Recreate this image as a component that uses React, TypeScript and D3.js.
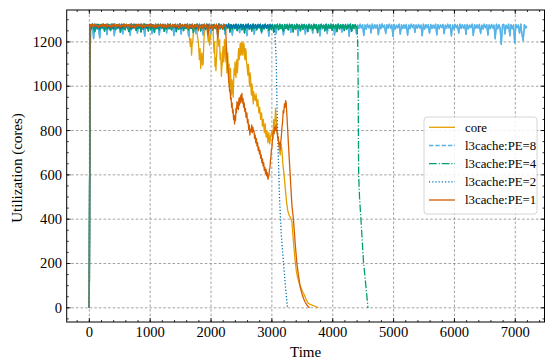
import React from 'react';
import * as d3 from 'd3';

const W = 545;
const H = 362;
const PLOT = { left: 66.7, right: 544.5, top: 10, bottom: 322 };
const X_DOMAIN: [number, number] = [-372, 7480];
const Y_DOMAIN: [number, number] = [-64, 1344];
const X_TICKS = [0, 1000, 2000, 3000, 4000, 5000, 6000, 7000];
const Y_TICKS = [0, 200, 400, 600, 800, 1000, 1200];
const X_MINOR_STEP = 200;
const Y_MINOR_STEP = 50;

// Full-utilisation samples: value at t = BAND_START + i * BAND_STEP
const BAND_START = 10;
const BAND_STEP = 20;

const coreBand = [
  1140, 1276, 1270, 1279, 1266, 1280, 1272, 1278, 1268, 1280, 1274, 1279, 1265, 1280, 1271, 1277, 1269, 1280, 1273, 1278,
  1266, 1280, 1272, 1279, 1268, 1277, 1274, 1280, 1265, 1279, 1271, 1278, 1269, 1280, 1273, 1276, 1262, 1279, 1270, 1280,
  1275, 1268, 1279, 1271, 1280, 1266, 1278, 1273, 1279, 1269, 1280, 1264, 1277, 1272, 1279, 1267, 1280, 1270, 1278, 1265,
  1279, 1271, 1280, 1268, 1277, 1273, 1279, 1266, 1280, 1270, 1278, 1267, 1279, 1272, 1280, 1264, 1277, 1269, 1279, 1271,
  1280, 1274,
];
const coreTail: [number, number][] = [
  [1640, 1230], [1650, 1205], [1660, 1180], [1670, 1215], [1680, 1140], [1690, 1190], [1700, 1200], [1710, 1250],
  [1720, 1265], [1740, 1278], [1760, 1270], [1775, 1230], [1790, 1200], [1800, 1160], [1810, 1120], [1820, 1170],
  [1830, 1080], [1840, 1130], [1850, 1150], [1860, 1095], [1870, 1100], [1880, 1190], [1890, 1240], [1910, 1275],
  [1935, 1260], [1945, 1225], [1955, 1200], [1965, 1240], [1975, 1185], [1985, 1215], [1995, 1230], [2015, 1270],
  [2035, 1250], [2042, 1190], [2050, 1150], [2058, 1200], [2065, 1090], [2072, 1130], [2080, 1070], [2088, 1120],
  [2095, 1150], [2102, 1210], [2110, 1230], [2120, 1200], [2130, 1180], [2140, 1210], [2150, 1120], [2160, 1150],
  [2170, 1045], [2178, 1090], [2185, 1100], [2192, 1160], [2200, 1180], [2208, 1110], [2215, 1130], [2222, 1210],
  [2230, 1200], [2238, 1140], [2245, 1110], [2252, 1170], [2260, 1060], [2268, 1120], [2275, 1150], [2282, 1080],
  [2290, 1040], [2298, 1100], [2305, 990], [2312, 1040], [2320, 1080], [2328, 1000], [2335, 960], [2342, 1030],
  [2350, 1020], [2358, 970], [2365, 950], [2372, 1030], [2380, 1080], [2388, 1050], [2395, 1110], [2402, 1060],
  [2410, 1040], [2418, 1100], [2425, 1120], [2432, 1060], [2440, 1090], [2448, 1150], [2455, 1170], [2462, 1120],
  [2470, 1140], [2478, 1190], [2485, 1195], [2492, 1140], [2500, 1150], [2508, 1200], [2515, 1190], [2522, 1140],
  [2530, 1160], [2538, 1195], [2545, 1180], [2552, 1130], [2560, 1120], [2568, 1170], [2575, 1160], [2582, 1110],
  [2590, 1095], [2598, 1070], [2605, 1050], [2612, 1100], [2620, 1080], [2628, 1020], [2635, 1000], [2642, 1060],
  [2650, 1040], [2658, 980], [2665, 960], [2672, 1010], [2680, 990], [2688, 940], [2695, 920], [2702, 975],
  [2710, 960], [2725, 935], [2740, 965], [2755, 910], [2770, 940], [2785, 880], [2800, 905], [2815, 850],
  [2830, 880], [2845, 820], [2860, 850], [2875, 790], [2890, 830], [2905, 770], [2920, 800], [2935, 745],
  [2950, 790], [2965, 740], [2980, 775], [3000, 800], [3015, 760], [3030, 850], [3045, 800], [3060, 900],
  [3075, 840], [3090, 790], [3105, 760], [3120, 720], [3137, 690], [3150, 740], [3165, 710], [3180, 650],
  [3200, 600], [3220, 540], [3240, 480], [3260, 440], [3280, 420], [3300, 410], [3315, 400], [3329, 390],
  [3345, 330], [3360, 280], [3380, 220], [3400, 170], [3420, 140], [3440, 120], [3460, 100], [3480, 90],
  [3500, 75], [3530, 60], [3560, 40], [3600, 20], [3640, 14], [3680, 10], [3720, 6], [3766, 0],
];

const pe8Band = [
  1279, 1261, 1277, 1215, 1280, 1259, 1276, 1264, 1218, 1278, 1262, 1280, 1257, 1275, 1233, 1279, 1263, 1277, 1260, 1281,
  1228, 1276, 1258, 1279, 1265, 1277, 1261, 1236, 1280, 1259, 1278, 1263, 1276, 1230, 1279, 1260, 1281, 1264, 1277, 1239,
  1275, 1262, 1280, 1258, 1278, 1226, 1279, 1264, 1276, 1261, 1280, 1237, 1277, 1259, 1279, 1263, 1275, 1232, 1280, 1260,
  1278, 1265, 1277, 1241, 1279, 1258, 1281, 1262, 1276, 1229, 1278, 1264, 1280, 1259, 1277, 1235, 1279, 1261, 1276, 1263,
  1280, 1227, 1278, 1260, 1279, 1264, 1275, 1238, 1280, 1258, 1277, 1262, 1279, 1231, 1276, 1265, 1280, 1259, 1278, 1240,
  1277, 1261, 1279, 1263, 1276, 1225, 1280, 1258, 1278, 1264, 1277, 1236, 1279, 1260, 1281, 1262, 1276, 1230, 1278, 1259,
  1280, 1265, 1277, 1242, 1279, 1261, 1276, 1263, 1280, 1228, 1278, 1258, 1277, 1264, 1279, 1234, 1276, 1260, 1280, 1262,
  1278, 1239, 1277, 1259, 1279, 1265, 1276, 1226, 1280, 1261, 1278, 1263, 1277, 1237, 1279, 1258, 1281, 1264, 1276, 1232,
  1278, 1260, 1280, 1262, 1277, 1243, 1279, 1259, 1276, 1265, 1280, 1229, 1278, 1261, 1277, 1263, 1279, 1235, 1276, 1258,
  1280, 1264, 1278, 1240, 1277, 1260, 1279, 1262, 1276, 1227, 1280, 1259, 1278, 1265, 1277, 1238, 1279, 1261, 1281, 1263,
  1276, 1231, 1278, 1258, 1280, 1264, 1277, 1244, 1279, 1260, 1276, 1262, 1280, 1226, 1278, 1259, 1277, 1265, 1279, 1236,
  1276, 1261, 1280, 1263, 1278, 1229, 1277, 1258, 1279, 1264, 1276, 1241, 1280, 1260, 1278, 1262, 1277, 1233, 1279, 1259,
  1281, 1265, 1276, 1238, 1278, 1261, 1280, 1263, 1277, 1225, 1279, 1258, 1276, 1264, 1280, 1236, 1278, 1260, 1277, 1262,
  1279, 1230, 1276, 1259, 1280, 1265, 1278, 1243, 1277, 1261, 1279, 1263, 1276, 1228, 1280, 1258, 1278, 1264, 1277, 1239,
  1279, 1260, 1276, 1262, 1280, 1232, 1278, 1259, 1277, 1265, 1279, 1237, 1276, 1261, 1280, 1263, 1278, 1227, 1277, 1258,
  1279, 1264, 1276, 1240, 1280, 1260, 1278, 1262, 1277, 1234, 1279, 1259, 1276, 1265, 1280, 1229, 1278, 1261, 1277, 1263,
  1279, 1238, 1276, 1258, 1280, 1264, 1278, 1231, 1277, 1260, 1279, 1262, 1276, 1214, 1280, 1259, 1278, 1263, 1188, 1277,
  1279, 1236, 1276, 1261, 1280, 1228, 1278, 1259, 1277, 1196, 1279, 1264, 1276, 1240, 1280, 1233, 1206, 1278, 1262, 1272,
];
const pe8Tail: [number, number][] = [];

const pe4Band = [
  1277, 1257, 1280, 1261, 1246, 1278, 1259, 1279, 1254, 1276, 1263, 1280, 1249, 1277, 1258, 1279, 1262, 1251, 1278, 1260,
  1280, 1256, 1277, 1263, 1279, 1244, 1276, 1259, 1280, 1255, 1278, 1262, 1247, 1279, 1257, 1276, 1264, 1280, 1252, 1277,
  1261, 1279, 1245, 1276, 1258, 1280, 1263, 1277, 1250, 1279, 1256, 1278, 1262, 1243, 1276, 1260, 1280, 1254, 1277, 1263,
  1279, 1248, 1276, 1259, 1280, 1261, 1278, 1253, 1277, 1264, 1279, 1246, 1276, 1257, 1280, 1262, 1278, 1251, 1277, 1260,
  1280, 1255, 1276, 1263, 1279, 1242, 1277, 1258, 1280, 1264, 1278, 1250, 1276, 1261, 1279, 1256, 1280, 1245, 1277, 1262,
  1278, 1253, 1279, 1260, 1276, 1247, 1280, 1263, 1277, 1257, 1279, 1252, 1276, 1264, 1280, 1244, 1278, 1259, 1277, 1261,
  1279, 1250, 1276, 1262, 1280, 1255, 1278, 1241, 1277, 1263, 1279, 1258, 1276, 1249, 1280, 1261, 1278, 1254, 1277, 1264,
  1279, 1246, 1276, 1259, 1280, 1262, 1278, 1252, 1277, 1257, 1279, 1243, 1276, 1263, 1280, 1256, 1278, 1260, 1277, 1248,
  1279, 1261, 1276, 1254, 1280, 1264, 1278, 1245, 1277, 1258, 1279, 1262, 1276, 1251, 1280, 1257, 1278, 1263, 1277, 1247,
  1279, 1260, 1276, 1255, 1280, 1262, 1278, 1242, 1277, 1259, 1279, 1264, 1276, 1250, 1280, 1256, 1278, 1261, 1277, 1253,
  1279, 1263, 1276, 1246, 1280, 1258, 1278, 1262, 1277, 1251, 1279, 1257, 1276, 1264, 1280, 1248, 1278, 1260, 1277, 1268,
];
const pe4Tail: [number, number][] = [
  [4400, 1262], [4412, 1180], [4418, 1000], [4422, 780], [4426, 600], [4440, 500],
  [4464, 396], [4485, 300], [4507, 202], [4530, 140], [4555, 70], [4579, 0],
];

const pe2Band = [
  1279, 1264, 1281, 1262, 1277, 1266, 1280, 1261, 1276, 1265, 1279, 1263, 1278, 1267, 1280, 1262, 1277, 1264, 1281, 1260,
  1276, 1266, 1279, 1263, 1278, 1261, 1280, 1265, 1277, 1262, 1279, 1267, 1276, 1260, 1281, 1264, 1278, 1263, 1279, 1261,
  1277, 1265, 1280, 1262, 1276, 1267, 1279, 1261, 1278, 1264, 1281, 1263, 1277, 1266, 1279, 1260, 1276, 1265, 1280, 1262,
  1278, 1264, 1279, 1261, 1277, 1266, 1280, 1263, 1276, 1265, 1279, 1262, 1278, 1264, 1281, 1260, 1277, 1266, 1279, 1263,
  1276, 1265, 1280, 1261, 1278, 1264, 1279, 1262, 1277, 1267, 1280, 1263, 1276, 1265, 1279, 1260, 1278, 1264, 1281, 1262,
  1277, 1266, 1279, 1263, 1276, 1261, 1280, 1265, 1278, 1262, 1279, 1264, 1277, 1266, 1280, 1260, 1276, 1265, 1279, 1263,
  1278, 1261, 1280, 1264, 1277, 1266, 1279, 1262, 1276, 1265, 1281, 1263, 1278, 1260, 1277, 1264, 1279, 1262, 1276, 1266,
  1280, 1263, 1277, 1265, 1279, 1261, 1278, 1264, 1276, 1270,
];
const pe2Tail: [number, number][] = [
  [3020, 1270], [3050, 1240], [3071, 1117], [3085, 900], [3099, 743], [3125, 500],
  [3153, 337], [3191, 202], [3225, 90], [3257, 0],
];

const pe1Band = [
  1280, 1268, 1278, 1266, 1281, 1270, 1277, 1265, 1279, 1269, 1280, 1267, 1278, 1264, 1281, 1270, 1277, 1266, 1279, 1268,
  1280, 1265, 1278, 1269, 1281, 1266, 1277, 1270, 1279, 1264, 1280, 1267, 1278, 1265, 1281, 1268, 1277, 1263, 1279, 1266,
  1280, 1269, 1278, 1265, 1281, 1267, 1277, 1270, 1279, 1264, 1280, 1268, 1278, 1266, 1281, 1265, 1277, 1269, 1279, 1263,
  1280, 1267, 1278, 1265, 1281, 1268, 1277, 1264, 1279, 1266, 1280, 1269, 1278, 1262, 1281, 1265, 1277, 1268, 1279, 1264,
  1280, 1260, 1278, 1266, 1281, 1255, 1277, 1268, 1279, 1250, 1280, 1263, 1278, 1258, 1281, 1265, 1277, 1230, 1279, 1262,
  1280, 1256, 1278, 1264, 1281, 1215, 1277, 1266, 1279, 1258, 1280, 1270,
];
const pe1Tail: [number, number][] = [
  [2240, 1270], [2250, 1190], [2258, 1150], [2266, 1125], [2274, 1080], [2282, 1070], [2290, 1020], [2298, 1010],
  [2306, 975], [2314, 985], [2322, 940], [2330, 950], [2338, 905], [2346, 925], [2354, 880], [2362, 895],
  [2370, 850], [2378, 870], [2386, 830], [2394, 865], [2402, 845], [2410, 900], [2418, 880], [2426, 930],
  [2434, 900], [2442, 925], [2450, 895], [2458, 945], [2466, 915], [2474, 950], [2482, 925], [2490, 960],
  [2498, 935], [2507, 968], [2515, 925], [2525, 945], [2535, 905], [2545, 925], [2555, 885], [2565, 900],
  [2575, 860], [2589, 880], [2598, 835], [2608, 850], [2618, 805], [2628, 825], [2638, 780], [2648, 805],
  [2658, 795], [2668, 825], [2678, 790], [2688, 815], [2697, 795], [2706, 800], [2715, 765], [2725, 780],
  [2735, 745], [2745, 765], [2755, 730], [2765, 745], [2775, 710], [2785, 725], [2795, 695], [2805, 710],
  [2815, 675], [2825, 690], [2835, 655], [2845, 672], [2855, 640], [2865, 655], [2875, 620], [2885, 635],
  [2895, 605], [2905, 625], [2915, 595], [2925, 610], [2935, 580], [2944, 590], [2952, 600], [2960, 625],
  [2968, 630], [2976, 665], [2984, 680], [2992, 715], [3000, 720], [3008, 755], [3016, 770], [3026, 800],
  [3036, 785], [3046, 815], [3056, 800], [3066, 825], [3076, 800], [3086, 790], [3096, 765], [3106, 770],
  [3116, 735], [3126, 745], [3137, 715], [3146, 750], [3156, 775], [3166, 815], [3176, 840], [3186, 890],
  [3196, 880], [3206, 920], [3216, 905], [3226, 935], [3235, 925], [3247, 868], [3260, 800], [3273, 734],
  [3287, 665], [3301, 600], [3315, 530], [3329, 463], [3342, 430], [3355, 396], [3370, 340], [3383, 290],
  [3397, 245], [3411, 200], [3438, 145], [3465, 95], [3492, 65], [3520, 42], [3548, 25], [3576, 12],
  [3600, 5], [3618, 0],
];

const SERIES_NAMES = ['core', 'l3cache:PE=8', 'l3cache:PE=4', 'l3cache:PE=2', 'l3cache:PE=1'];
const SERIES_COLORS = ['#E69F00', '#56B4E9', '#009E73', '#0072B2', '#D55E00'];
const SERIES_DASH: number[][] = [[], [4.4, 1.9], [7.7, 1.9, 1.2, 1.9], [1.2, 2], []];
const SERIES_BANDS = [coreBand, pe8Band, pe4Band, pe2Band, pe1Band];
const SERIES_TAILS = [coreTail, pe8Tail, pe4Tail, pe2Tail, pe1Tail];

function bandPoints(band: number[]): [number, number][] {
  const pts: [number, number][] = [[0, 0]];
  band.forEach((v, i) => pts.push([BAND_START + i * BAND_STEP, v]));
  return pts;
}

const FONT = '"Liberation Serif", "DejaVu Serif", serif';

export default function App() {
  const x = d3.scaleLinear().domain(X_DOMAIN).range([PLOT.left, PLOT.right]);
  const y = d3.scaleLinear().domain(Y_DOMAIN).range([PLOT.bottom, PLOT.top]);
  const line = d3
    .line<[number, number]>()
    .x((d) => x(d[0]))
    .y((d) => y(d[1]));

  const xMinor = d3.range(Math.ceil(X_DOMAIN[0] / X_MINOR_STEP) * X_MINOR_STEP, X_DOMAIN[1], X_MINOR_STEP);
  const yMinor = d3.range(Math.ceil(Y_DOMAIN[0] / Y_MINOR_STEP) * Y_MINOR_STEP, Y_DOMAIN[1], Y_MINOR_STEP);

  const major = 4;
  const minor = 2;

  const legendX = 424;
  const legendY = 117;
  const legendRows = [127.3, 145.5, 163.7, 181.9, 200];

  return (
    <div style={{ position: 'absolute', left: 0, top: 0 }}>
      <svg width={W} height={H} style={{ display: 'block', background: '#fff' }} fontFamily={FONT}>
        <defs>
          <clipPath id="plotclip">
            <rect x={PLOT.left} y={PLOT.top} width={PLOT.right - PLOT.left} height={PLOT.bottom - PLOT.top} />
          </clipPath>
        </defs>
        <g stroke="#8c8c8c" strokeWidth={0.8} strokeDasharray="2.6,2">
          {X_TICKS.map((t) => (
            <line key={'gx' + t} x1={x(t)} x2={x(t)} y1={PLOT.top} y2={PLOT.bottom} />
          ))}
          {Y_TICKS.map((t) => (
            <line key={'gy' + t} x1={PLOT.left} x2={PLOT.right} y1={y(t)} y2={y(t)} />
          ))}
        </g>
        <g clipPath="url(#plotclip)" fill="none" strokeLinejoin="round">
          {SERIES_NAMES.map((name, i) => {
            const band = bandPoints(SERIES_BANDS[i]);
            const tail = SERIES_TAILS[i];
            const dash = SERIES_DASH[i];
            const period = d3.sum(dash);
            // dense full-utilisation band: overlapping samples fill the dash gaps
            const offsets = dash.length ? [0, period / 3, (2 * period) / 3] : [0];
            const bandWithJoin = tail.length ? band.concat([tail[0]]) : band;
            const tailWithJoin = tail.length ? [band[band.length - 1]].concat(tail) : [];
            return (
              <g key={name} stroke={SERIES_COLORS[i]} strokeWidth={1.3}>
                {offsets.map((o, k) => (
                  <path
                    key={'b' + k}
                    d={line(bandWithJoin) || ''}
                    strokeDasharray={dash.length ? dash.join(',') : undefined}
                    strokeDashoffset={o}
                  />
                ))}
                {tailWithJoin.length > 0 && (
                  <path d={line(tailWithJoin) || ''} strokeDasharray={dash.length ? dash.join(',') : undefined} />
                )}
              </g>
            );
          })}
        </g>
        <g stroke="#000" strokeWidth={0.8}>
          {xMinor.map((t) => (
            <g key={'xm' + t}>
              <line x1={x(t)} x2={x(t)} y1={PLOT.bottom} y2={PLOT.bottom - minor} />
              <line x1={x(t)} x2={x(t)} y1={PLOT.top} y2={PLOT.top + minor} />
            </g>
          ))}
          {X_TICKS.map((t) => (
            <g key={'xM' + t}>
              <line x1={x(t)} x2={x(t)} y1={PLOT.bottom} y2={PLOT.bottom - major} />
              <line x1={x(t)} x2={x(t)} y1={PLOT.top} y2={PLOT.top + major} />
            </g>
          ))}
          {yMinor.map((t) => (
            <g key={'ym' + t}>
              <line x1={PLOT.left} x2={PLOT.left + minor} y1={y(t)} y2={y(t)} />
              <line x1={PLOT.right} x2={PLOT.right - minor} y1={y(t)} y2={y(t)} />
            </g>
          ))}
          {Y_TICKS.map((t) => (
            <g key={'yM' + t}>
              <line x1={PLOT.left} x2={PLOT.left + major} y1={y(t)} y2={y(t)} />
              <line x1={PLOT.right} x2={PLOT.right - major} y1={y(t)} y2={y(t)} />
            </g>
          ))}
        </g>
        <rect
          x={PLOT.left}
          y={PLOT.top}
          width={PLOT.right - PLOT.left}
          height={PLOT.bottom - PLOT.top}
          fill="none"
          stroke="#000"
          strokeWidth={1}
        />
        <g fontSize={14.6} fill="#000">
          {X_TICKS.map((t) => (
            <text key={'xl' + t} x={x(t)} y={337.3} textAnchor="middle">
              {t}
            </text>
          ))}
          {Y_TICKS.map((t) => (
            <text key={'yl' + t} x={62} y={y(t)} dy="0.34em" textAnchor="end">
              {t}
            </text>
          ))}
        </g>
        <text x={(PLOT.left + PLOT.right) / 2} y={356.5} textAnchor="middle" fontSize={15}>
          Time
        </text>
        <text transform={`translate(22,${(PLOT.top + PLOT.bottom) / 2 + 2}) rotate(-90)`} textAnchor="middle" fontSize={15}>
          Utilization (cores)
        </text>
        <g>
          <rect
            x={legendX}
            y={legendY}
            width={113}
            height={97}
            rx={3}
            fill="#fff"
            fillOpacity={0.85}
            stroke="#cccccc"
            strokeWidth={0.8}
          />
          {SERIES_NAMES.map((name, i) => (
            <g key={'lg' + name}>
              <line
                x1={429}
                x2={455}
                y1={legendRows[i]}
                y2={legendRows[i]}
                stroke={SERIES_COLORS[i]}
                strokeWidth={1.3}
                strokeDasharray={SERIES_DASH[i].length ? SERIES_DASH[i].join(',') : undefined}
              />
              <text x={465} y={legendRows[i]} dy="0.33em" fontSize={12.8}>
                {name}
              </text>
            </g>
          ))}
        </g>
      </svg>
    </div>
  );
}
